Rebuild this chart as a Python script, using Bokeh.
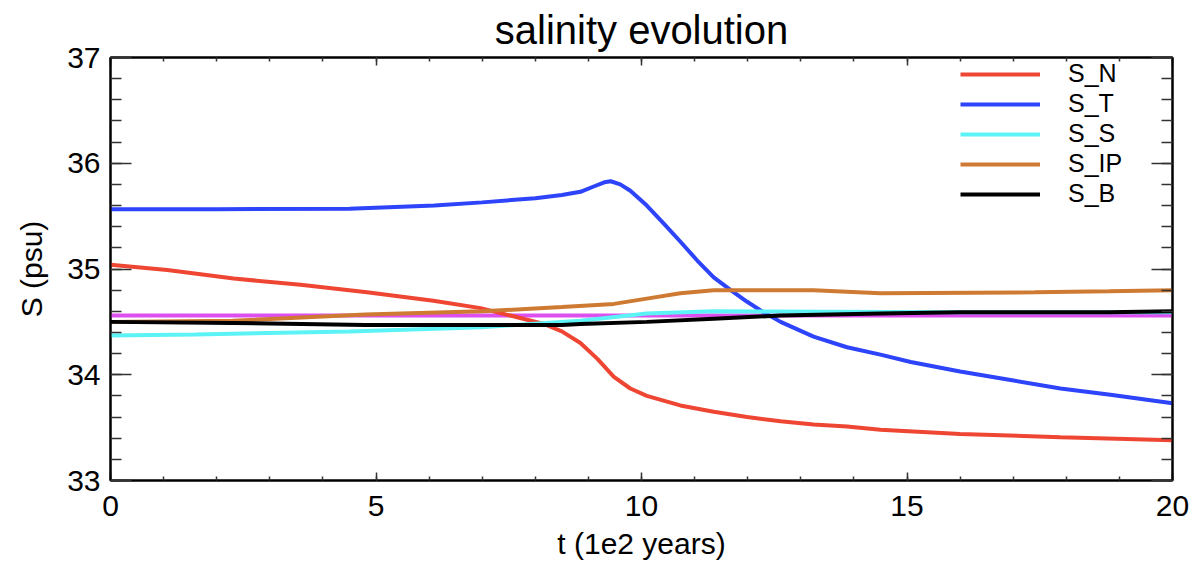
from bokeh.plotting import figure
from bokeh.models import (Range1d, LinearAxis, SingleIntervalTicker, Legend, LegendItem,
                          CustomJSTickFormatter)
from bokeh.embed import file_html
from bokeh.resources import INLINE

# ---- data ----
t_N = [0, 1.07, 2.32, 3.58, 4.83, 6.08, 6.97, 7.53, 8.16, 8.5, 8.85, 9.17, 9.48, 9.79,
       10.1, 10.73, 11.36, 11.99, 12.62, 13.24, 13.87, 14.5, 16.0, 17.89, 20]
S_N = [35.04, 34.99, 34.91, 34.85, 34.78, 34.70, 34.63, 34.56, 34.48, 34.41, 34.30, 34.15,
       33.98, 33.87, 33.80, 33.71, 33.65, 33.60, 33.56, 33.53, 33.51, 33.48, 33.44, 33.41, 33.38]

t_T = [0, 2, 4.5, 6.1, 7.0, 8.0, 8.5, 8.85, 9.1, 9.3, 9.42, 9.6, 9.79, 10.1, 10.42, 10.73,
       11.05, 11.36, 11.68, 11.99, 12.3, 12.62, 13.24, 13.87, 14.5, 15.07, 16.0, 16.95,
       17.89, 18.83, 20]
S_T = [35.565, 35.565, 35.57, 35.60, 35.63, 35.67, 35.70, 35.73, 35.78, 35.82, 35.83, 35.80,
       35.74, 35.60, 35.43, 35.26, 35.08, 34.92, 34.80, 34.69, 34.59, 34.50, 34.36, 34.26,
       34.19, 34.12, 34.03, 33.95, 33.87, 33.81, 33.73]

t_S = [0, 1.6, 4.5, 7.0, 8.85, 10.1, 11.36, 16.0, 20]
S_S = [34.37, 34.38, 34.41, 34.45, 34.51, 34.58, 34.60, 34.59, 34.59]

t_IP = [0, 2.3, 4.8, 7.0, 8.5, 9.48, 10.1, 10.73, 11.36, 13.24, 14.5, 17.4, 18.8, 20]
S_IP = [34.50, 34.51, 34.57, 34.60, 34.64, 34.67, 34.72, 34.77, 34.80, 34.80, 34.77, 34.78,
        34.79, 34.80]

t_B = [0, 2.3, 4.8, 8.5, 8.85, 10.1, 11.36, 12.62, 14.5, 16.0, 18.8, 20]
S_B = [34.50, 34.49, 34.47, 34.47, 34.48, 34.50, 34.53, 34.56, 34.58, 34.59, 34.59, 34.60]

t_ref = [0, 20]
S_ref = [34.56, 34.56]

series_names = ["S_N", "S_T", "S_S", "S_IP", "S_B"]
colors = ["#EF4634", "#2D44FB", "#5BF3F5", "#CF7A32", "#000000"]
ref_color = "#DD4FEF"

x_ticks_interval = 5
y_ticks_interval = 1

FONT = "Liberation Sans"

p = figure(width=1200, height=564, output_backend="svg", toolbar_location=None,
           x_range=Range1d(0, 20), y_range=Range1d(33, 37),
           min_border_left=110, min_border_right=28, min_border_top=57, min_border_bottom=84,
           title="salinity evolution")
p.background_fill_color = "white"
p.border_fill_color = "white"
p.outline_line_color = "black"
p.outline_line_width = 2
p.xgrid.visible = False
p.ygrid.visible = False

p.title.text_font = FONT
p.title.text_font_size = "40px"
p.title.text_font_style = "normal"
p.title.align = "center"
p.title.text_color = "black"
p.title.standoff = 11

# data lines
p.line(t_ref, S_ref, color=ref_color, line_width=4)
rs = []
for tt, ss, c in zip([t_N, t_T, t_S, t_IP, t_B], [S_N, S_T, S_S, S_IP, S_B], colors):
    rs.append(p.line(tt, ss, color=c, line_width=4))

def style_axis(ax, major_in, minor_in, labels=True):
    ax.major_tick_in = major_in
    ax.major_tick_out = 0
    ax.minor_tick_in = minor_in
    ax.minor_tick_out = 0
    ax.major_tick_line_color = "#333333"
    ax.minor_tick_line_color = "#333333"
    ax.major_tick_line_width = 1.5
    ax.minor_tick_line_width = 1.5
    ax.axis_line_color = "black"
    ax.axis_line_width = 2
    if labels:
        ax.major_label_text_font = FONT
        ax.major_label_text_font_size = "30px"
        ax.major_label_text_color = "black"
        ax.axis_label_text_font = FONT
        ax.axis_label_text_font_size = "30px"
        ax.axis_label_text_font_style = "normal"
        ax.axis_label_text_color = "black"
    else:
        ax.formatter = CustomJSTickFormatter(code="return '';")
        ax.major_label_standoff = 0

xt = SingleIntervalTicker(interval=x_ticks_interval, num_minor_ticks=5)
yt = SingleIntervalTicker(interval=y_ticks_interval, num_minor_ticks=5)

xa = p.xaxis[0]
xa.ticker = xt
xa.axis_label = "t (1e2 years)"
style_axis(xa, 8, 4)
xa.major_label_standoff = 15
xa.axis_label_standoff = 8

ya = p.yaxis[0]
ya.ticker = yt
ya.axis_label = "S (psu)"
style_axis(ya, 21, 11)
ya.major_label_standoff = 10
ya.axis_label_standoff = 16

ra = LinearAxis(ticker=SingleIntervalTicker(interval=y_ticks_interval, num_minor_ticks=5))
style_axis(ra, 21, 11, labels=False)
p.add_layout(ra, "right")
ta = LinearAxis(ticker=SingleIntervalTicker(interval=x_ticks_interval, num_minor_ticks=5))
style_axis(ta, 8, 4, labels=False)
p.add_layout(ta, "above")

legend = Legend(items=[LegendItem(label=n, renderers=[r]) for n, r in zip(series_names, rs)],
                location=(850, 272))
legend.glyph_width = 80
legend.glyph_height = 28
legend.label_height = 28
legend.label_standoff = 28
legend.spacing = 1
legend.padding = 0
legend.margin = 0
legend.label_text_font = FONT
legend.label_text_font_size = "25px"
legend.label_text_color = "black"
legend.background_fill_alpha = 0
legend.border_line_alpha = 0
p.add_layout(legend)

open("out.html", "w").write(file_html(p, INLINE))
